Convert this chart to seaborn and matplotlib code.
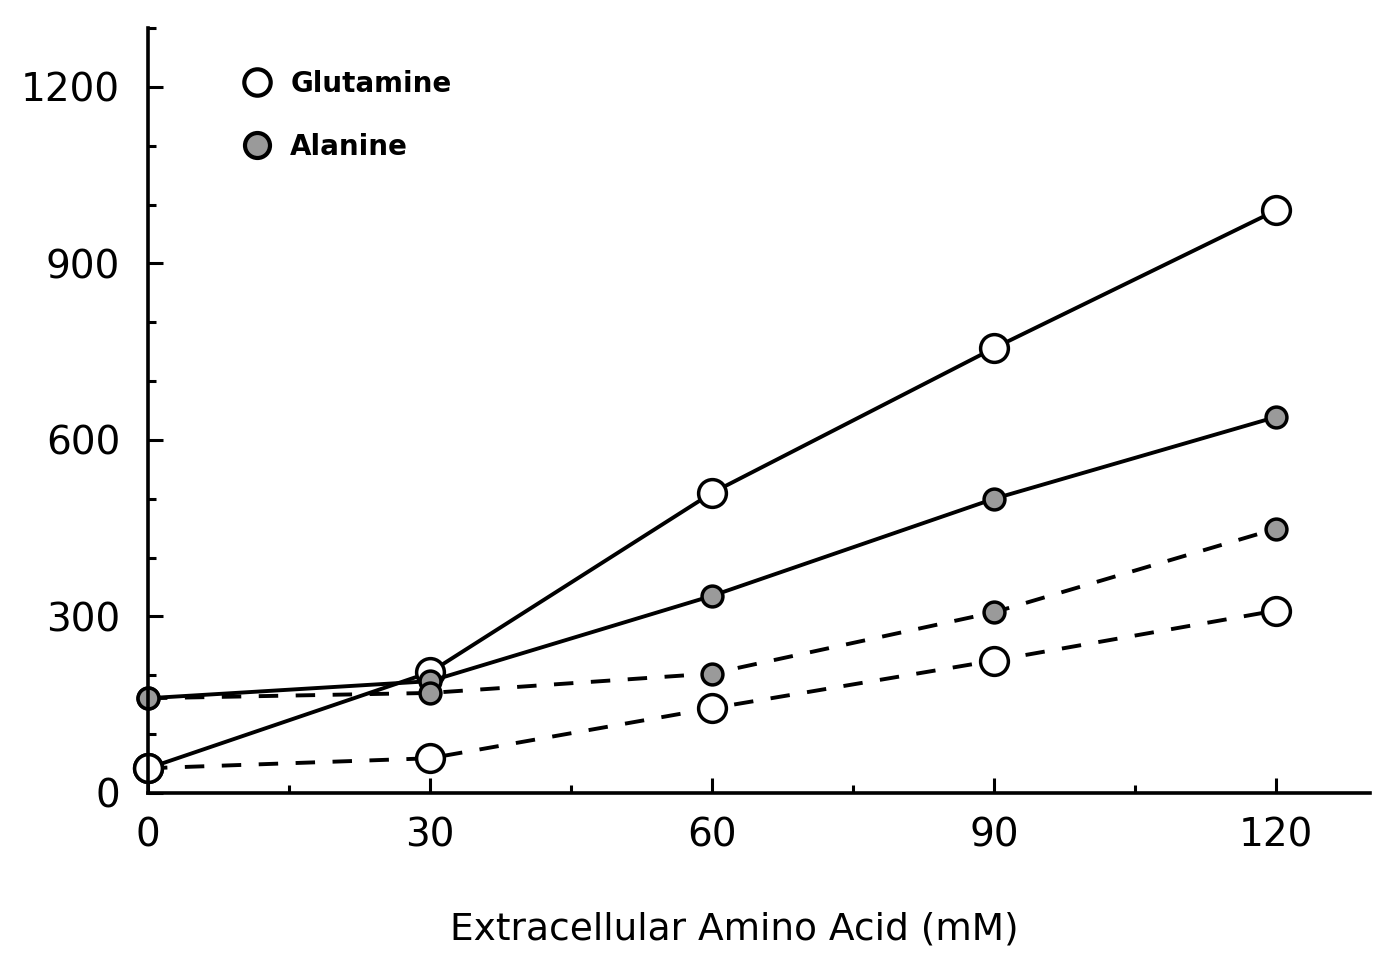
import matplotlib
matplotlib.use("Agg")
import matplotlib.pyplot as plt
from matplotlib.lines import Line2D
from matplotlib.ticker import MultipleLocator
import seaborn as sns
import pandas as pd

# Extracellular amino acid concentration (mM)
conc = [0, 30, 60, 90, 120]

# Four curves: glutamine / alanine, each under two conditions
glutamine_solid = [42, 205, 510, 756, 990]
alanine_solid = [161, 190, 335, 500, 639]
alanine_dashed = [161, 170, 203, 307, 449]
glutamine_dashed = [42, 59, 144, 225, 310]

x_ticks = [0, 30, 60, 90, 120]
y_ticks = [0, 300, 600, 900, 1200]
legend_labels = ["Glutamine", "Alanine"]
x_label = "Extracellular Amino Acid (mM)"

sns.set_theme(style="ticks")
plt.rcParams["font.family"] = ["DejaVu Sans"]

fig = plt.figure(figsize=(13.93, 9.57), dpi=100)
ax = fig.add_axes([0.1062, 0.1714, 0.8773, 0.7993])

series = [
    (glutamine_solid, "-", "white", 20),
    (alanine_solid, "-", "#9a9a9a", 15),
    (alanine_dashed, (0, (5, 4.5)), "#9a9a9a", 15),
    (glutamine_dashed, (0, (5, 4.5)), "white", 20),
]

for values, ls, face, msize in series:
    df = pd.DataFrame({"conc": conc, "value": values})
    sns.lineplot(
        data=df, x="conc", y="value", ax=ax,
        color="black", linewidth=2.8, linestyle=ls,
        marker="o", markersize=msize, markerfacecolor=face,
        markeredgecolor="black", markeredgewidth=2.5, clip_on=False,
    )

ax.set_xlim(0, 130)
ax.set_ylim(0, 1300)
ax.set_xticks(x_ticks)
ax.set_yticks(y_ticks)
ax.xaxis.set_minor_locator(MultipleLocator(15))
ax.yaxis.set_minor_locator(MultipleLocator(100))

ax.tick_params(axis="both", which="major", direction="in", length=11,
               width=2.2, labelsize=28, colors="black")
ax.tick_params(axis="both", which="minor", direction="in", length=6,
               width=2.2, colors="black")
ax.tick_params(axis="y", which="major", pad=20)
ax.tick_params(axis="x", which="major", pad=17)

for side in ["top", "right"]:
    ax.spines[side].set_visible(False)
for side in ["left", "bottom"]:
    ax.spines[side].set_linewidth(2.6)
    ax.spines[side].set_color("black")

ax.set_ylabel("")
ax.set_xlabel(x_label, fontsize=27, color="black")
ax.xaxis.set_label_coords(0.48, -0.155)

handles = [
    Line2D([], [], linestyle="none", marker="o", markersize=19,
           markerfacecolor="white", markeredgecolor="black", markeredgewidth=3),
    Line2D([], [], linestyle="none", marker="o", markersize=18,
           markerfacecolor="#9a9a9a", markeredgecolor="black", markeredgewidth=3),
]
leg = ax.legend(handles, legend_labels, loc="upper left",
                bbox_to_anchor=(0.055, 0.978), frameon=False,
                prop={"size": 20, "weight": "semibold"},
                labelspacing=1.25, handletextpad=0.6, handlelength=1.2)
for t in leg.get_texts():
    t.set_color("black")

fig.savefig("out.png", dpi=100, facecolor="white")
